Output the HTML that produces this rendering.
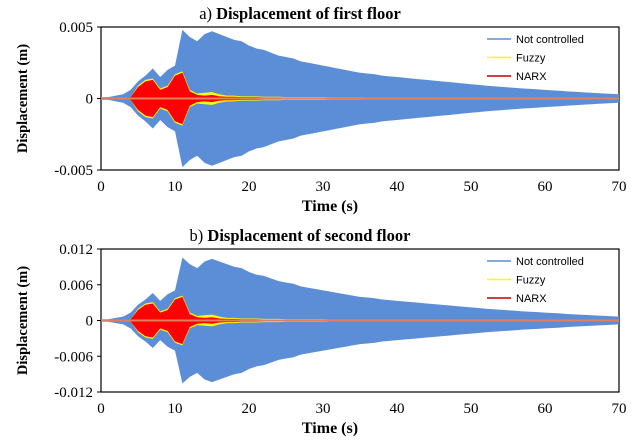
<!DOCTYPE html>
<html><head><meta charset="utf-8"><style>
body{margin:0;background:#fff;width:635px;height:437px;overflow:hidden}
svg text{font-family:"Liberation Serif",serif}
</style></head><body>
<svg id="c" width="635" height="437"></svg>
<script>
const times=[0,1,2,3,4,5,6,7,8,9,10,11,12,13,14,15,16,17,18,19,20,21,22,23,24,25,26,27,28,29,30,31,32,33,34,35,36,37,38,39,40,41,42,43,44,45,46,47,48,49,50,51,52,53,54,55,56,57,58,59,60,61,62,63,64,65,66,67,68,69,70];
const blue1=[0.1,0.1,0.2,0.3,0.6,1.2,1.6,2.1,1.5,2.0,2.3,4.8,4.3,4.0,4.5,4.7,4.5,4.3,4.1,4.0,3.7,3.5,3.4,3.2,3.0,2.9,2.8,2.6,2.5,2.4,2.3,2.2,2.1,2.0,1.9,1.8,1.75,1.7,1.6,1.55,1.5,1.45,1.4,1.35,1.3,1.25,1.2,1.15,1.1,1.05,1.0,0.95,0.9,0.86,0.82,0.78,0.74,0.7,0.67,0.64,0.6,0.57,0.54,0.5,0.47,0.44,0.41,0.38,0.35,0.32,0.3];
const yellow1=[0.05,0.05,0.1,0.05,0.1,0.9,1.3,1.4,0.7,0.9,1.7,1.9,0.6,0.35,0.4,0.45,0.3,0.2,0.2,0.15,0.15,0.15,0.12,0.12,0.12,0.1,0.1,0.1,0.1,0.1,0.1,0.08,0.08,0.08,0.08,0.08,0.07,0.07,0.07,0.07,0.06,0.06,0.06,0.06,0.06,0.05,0.05,0.05,0.05,0.05,0.05,0.05,0.05,0.05,0.05,0.05,0.05,0.05,0.05,0.05,0.05,0.05,0.05,0.05,0.05,0.05,0.05,0.05,0.05,0.05,0.05];
const red1=[0.05,0.05,0.1,0.05,0.1,0.8,1.2,1.3,0.6,0.8,1.6,1.8,0.5,0.25,0.2,0.25,0.15,0.12,0.12,0.1,0.1,0.1,0.08,0.08,0.08,0.07,0.07,0.07,0.07,0.07,0.06,0.05,0.05,0.05,0.05,0.05,0.05,0.05,0.05,0.05,0.05,0.05,0.05,0.05,0.05,0.05,0.05,0.05,0.05,0.05,0.05,0.05,0.05,0.05,0.05,0.05,0.05,0.05,0.05,0.05,0.05,0.05,0.05,0.05,0.05,0.05,0.05,0.05,0.05,0.05,0.05];
const scale2=2.2;
const yTicks1=["0.005","0","-0.005"];
const yVals1=[5,0,-5];
const yTicks2=["0.012","0.006","0","-0.006","-0.012"];
const yVals2=[12,6,0,-6,-12];
const xTicks=[0,10,20,30,40,50,60,70];
const legendNames=["Not controlled","Fuzzy","NARX"];
const legendColors=["#5b8ed6","#ffff00","#c00000"];

const svg=document.getElementById('c');
const NS='http://www.w3.org/2000/svg';
function mk(tag,attrs,parent){const e=document.createElementNS(NS,tag);for(const k in attrs)e.setAttribute(k,attrs[k]);(parent||svg).appendChild(e);return e;}

function chart(top,bottom,ymax,yTicks,yVals,mult,label,title,id){
  const x0=101,x1=619;
  const X=t=>x0+(t-0)/(70)*(x1-x0);
  const Y=v=>top+(ymax-v)/(2*ymax)*(bottom-top);
  const g=mk('g',{});
  
  
  const t=mk('text',{x:300,y:top-8,'text-anchor':'middle','font-size':16.5},g);
  const t1=mk('tspan',{},t);t1.textContent=label+' ';
  const t2=mk('tspan',{'font-weight':'bold'},t);t2.textContent=title;
  
  mk('rect',{x:x0,y:top,width:x1-x0,height:bottom-top,fill:'#fff',stroke:'#000','stroke-width':1.2},g);
  function band(arr,color,name){
    let up=[],dn=[];
    for(let i=0;i<times.length;i++){up.push(X(times[i])+','+Y(arr[i]*mult));dn.unshift(X(times[i])+','+Y(-arr[i]*mult));}
    const p=mk('polygon',{points:up.concat(dn).join(' '),fill:color},g);
    
  }
  band(blue1,'#5b8ed6','series-not-controlled');
  band(yellow1,'#ffff00','series-fuzzy');
  band(red1,'#ff0000','series-narx');
  const z=mk('line',{x1:x0,x2:x1,y1:Y(0),y2:Y(0),stroke:'#e08060','stroke-width':2},g);
  
  yVals.forEach((v,i)=>{
    const l=mk('text',{x:x0-8,y:Y(v)+5,'text-anchor':'end','font-size':15},g);
    l.textContent=yTicks[i];
    
    mk('line',{x1:x0-4,x2:x0,y1:Y(v),y2:Y(v),stroke:'#000'},g);
  });
  xTicks.forEach(v=>{
    const l=mk('text',{x:X(v),y:bottom+21,'text-anchor':'middle','font-size':15},g);
    l.textContent=v;
    
  });
  const xt=mk('text',{x:330,y:bottom+41,'text-anchor':'middle','font-size':16,'font-weight':'bold'},g);
  xt.textContent='Time (s)';
  
  const yt=mk('text',{x:0,y:0,'text-anchor':'middle','font-size':14.5,'font-weight':'bold',transform:`translate(27,${(top+bottom)/2}) rotate(-90)`},g);
  yt.textContent='Displacement (m)';
  
  legendNames.forEach((n,i)=>{
    const ly=top+12+i*18.5;
    const lg=mk('g',{},g);
    
    mk('line',{x1:487,x2:511,y1:ly,y2:ly,stroke:legendColors[i],'stroke-width':1.5},lg);
    const lt=mk('text',{x:516,y:ly+4,'font-size':11,style:'font-family:"Liberation Sans",sans-serif'},lg);
    lt.textContent=n;
  });
}
chart(27,170,5,yTicks1,yVals1,1,'a)','Displacement of first floor','chart-first-floor');
chart(249,392,12,yTicks2,yVals2,scale2,'b)','Displacement of second floor','chart-second-floor');
</script>
</body></html>
